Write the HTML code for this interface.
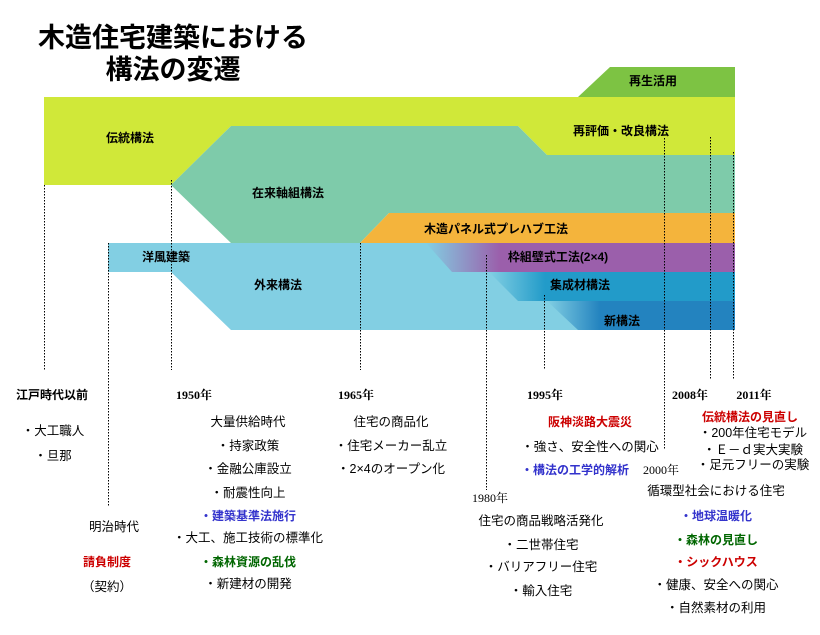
<!DOCTYPE html>
<html><head><meta charset="utf-8"><style>
html,body{margin:0;padding:0;background:#fff;}
svg{display:block;font-family:"Liberation Sans","Noto Sans CJK JP",sans-serif;}
.b{font-weight:bold;font-size:12px;}
.n{font-size:12.5px;}
.y{font-family:"Liberation Serif","Noto Serif CJK SC",serif;font-weight:bold;font-size:12px;}
.yn{font-family:"Liberation Serif","Noto Serif CJK SC",serif;font-size:12px;}
</style></head><body>
<svg width="820" height="635" viewBox="0 0 820 635" xmlns="http://www.w3.org/2000/svg">
<defs>
<linearGradient id="gp" x1="426" x2="500" y1="0" y2="0" gradientUnits="userSpaceOnUse"><stop offset="0" stop-color="#82cfe3"/><stop offset="1" stop-color="#9b5fab"/></linearGradient>
<linearGradient id="gs" x1="489" x2="545" y1="0" y2="0" gradientUnits="userSpaceOnUse"><stop offset="0" stop-color="#82cfe3"/><stop offset="1" stop-color="#229bc9"/></linearGradient>
<linearGradient id="gn" x1="547" x2="600" y1="0" y2="0" gradientUnits="userSpaceOnUse"><stop offset="0" stop-color="#82cfe3"/><stop offset="1" stop-color="#2383bf"/></linearGradient>
</defs>
<text x="173" y="47" text-anchor="middle" font-size="27" font-weight="bold">木造住宅建築における</text>
<text x="173" y="79" text-anchor="middle" font-size="27" font-weight="bold">構法の変遷</text>
<polygon points="610,67 735,67 735,97 578,97" fill="#7dc343"/>
<polygon points="44,97 735,97 735,155 547,155 518,126 231,126 171,185 44,185" fill="#d0e839"/>
<polygon points="171,185 231,126 518,126 547,155 735,155 735,213 389,213 360,243 231,243" fill="#7ecbaa"/>
<polygon points="389,213 735,213 735,243 360,243" fill="#f4b43c"/>
<polygon points="108,243 735,243 735,330 231,330 171,272 108,272" fill="#82cfe3"/>
<polygon points="426,243 735,243 735,272 452,272" fill="url(#gp)"/>
<polygon points="489,272 735,272 735,301 518,301" fill="url(#gs)"/>
<polygon points="547,301 735,301 735,330 578,330" fill="url(#gn)"/>
<g stroke="#000" stroke-width="1" stroke-dasharray="1.5,1.5" fill="none">
<line x1="44.5" y1="185" x2="44.5" y2="370"/>
<line x1="108.5" y1="243" x2="108.5" y2="507"/>
<line x1="171.5" y1="180" x2="171.5" y2="370"/>
<line x1="360.5" y1="243" x2="360.5" y2="370"/>
<line x1="486.5" y1="255" x2="486.5" y2="490"/>
<line x1="544.5" y1="295" x2="544.5" y2="370"/>
<line x1="664.5" y1="138" x2="664.5" y2="450"/>
<line x1="710.5" y1="137" x2="710.5" y2="380"/>
<line x1="733.5" y1="152" x2="733.5" y2="380"/>
</g>
<g class="b" text-anchor="middle">
<text x="653" y="85">再生活用</text>
<text x="130" y="142">伝統構法</text>
<text x="621" y="135">再評価・改良構法</text>
<text x="288" y="197">在来軸組構法</text>
<text x="496" y="233">木造パネル式プレハブ工法</text>
<text x="166" y="261">洋風建築</text>
<text x="558" y="261">枠組壁式工法(2×4)</text>
<text x="278" y="289">外来構法</text>
<text x="580" y="289">集成材構法</text>
<text x="622" y="325">新構法</text>
</g>
<g text-anchor="middle">
<text class="b" x="52" y="399">江戸時代以前</text>
<text class="n" x="53" y="435">・大工職人</text>
<text class="n" x="53" y="460">・旦那</text>
<text class="n" x="114" y="531">明治時代</text>
<text class="b" x="107" y="566" fill="#cc0000">請負制度</text>
<text class="n" x="107" y="591">（契約）</text>
<text class="y" x="194" y="399">1950年</text>
<text class="n" x="248" y="426">大量供給時代</text>
<text class="n" x="248" y="450">・持家政策</text>
<text class="n" x="248" y="473">・金融公庫設立</text>
<text class="n" x="248" y="497">・耐震性向上</text>
<text class="b" x="248" y="520" fill="#3333cc">・建築基準法施行</text>
<text class="n" x="248" y="542">・大工、施工技術の標準化</text>
<text class="b" x="248" y="566" fill="#006600">・森林資源の乱伐</text>
<text class="n" x="248" y="588">・新建材の開発</text>
<text class="y" x="356" y="399">1965年</text>
<text class="n" x="391" y="426">住宅の商品化</text>
<text class="n" x="391" y="450">・住宅メーカー乱立</text>
<text class="n" x="391" y="473">・2×4のオープン化</text>
<text class="y" x="545" y="399">1995年</text>
<text class="b" x="590" y="426" fill="#cc0000">阪神淡路大震災</text>
<text class="n" x="590" y="451">・強さ、安全性への関心</text>
<text class="b" x="575" y="474" fill="#3333cc">・構法の工学的解析</text>
<text class="yn" x="490" y="502">1980年</text>
<text class="n" x="541" y="525">住宅の商品戦略活発化</text>
<text class="n" x="541" y="549">・二世帯住宅</text>
<text class="n" x="541" y="571">・バリアフリー住宅</text>
<text class="n" x="541" y="595">・輸入住宅</text>
<text class="yn" x="661" y="474">2000年</text>
<text class="n" x="716" y="495">循環型社会における住宅</text>
<text class="b" x="716" y="520" fill="#3333cc">・地球温暖化</text>
<text class="b" x="716" y="544" fill="#006600">・森林の見直し</text>
<text class="b" x="716" y="566" fill="#cc0000">・シックハウス</text>
<text class="n" x="716" y="589">・健康、安全への関心</text>
<text class="n" x="716" y="612">・自然素材の利用</text>
<text class="y" x="690" y="399">2008年</text>
<text class="y" x="754" y="399">2011年</text>
<text class="b" x="750" y="421" fill="#cc0000">伝統構法の見直し</text>
<text class="n" x="753" y="437">・200年住宅モデル</text>
<text class="n" x="753" y="454">・Ｅ－ｄ実大実験</text>
<text class="n" x="753" y="469">・足元フリーの実験</text>
</g>
</svg>
</body></html>
